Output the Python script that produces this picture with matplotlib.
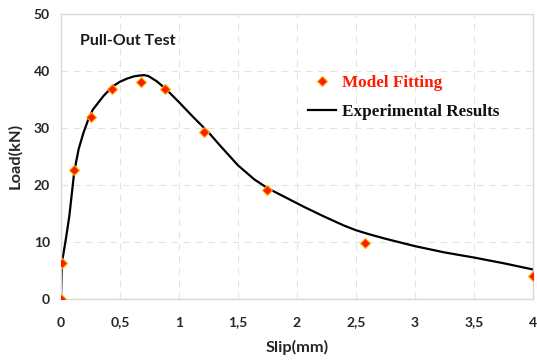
import matplotlib
matplotlib.use("Agg")
import matplotlib.pyplot as plt
from matplotlib.ticker import FuncFormatter

# Model fitting points (slip in mm, load in kN)
model_slip = [0.0, 0.005, 0.11, 0.25, 0.43, 0.68, 0.88, 1.21, 1.745, 2.58, 4.0]
model_load = [0.0, 6.3, 22.5, 31.9, 36.8, 38.1, 36.8, 29.3, 19.1, 9.7, 3.9]

# Experimental load-slip curve
exp_slip = [0.0, 0.008, 0.04, 0.07, 0.113, 0.15, 0.19, 0.23, 0.27, 0.36, 0.44,
            0.5, 0.56, 0.62, 0.67, 0.705, 0.74, 0.81, 0.89, 1.0, 1.12, 1.25,
            1.36, 1.5, 1.64, 1.75, 1.9, 2.06, 2.22, 2.4, 2.5, 2.61, 2.75, 3.0,
            3.25, 3.5, 3.75, 4.0]
exp_load = [0.0, 6.3, 10.3, 14.4, 22.4, 26.3, 29.1, 31.4, 33.2, 35.6, 37.3,
            38.1, 38.65, 39.05, 39.2, 39.25, 39.1, 38.2, 36.8, 34.5, 31.9, 29.2,
            26.6, 23.4, 20.9, 19.4, 17.8, 16.1, 14.5, 12.8, 12.0, 11.3, 10.5, 9.2,
            8.1, 7.2, 6.2, 5.1]

x_ticks = [0, 0.5, 1, 1.5, 2, 2.5, 3, 3.5, 4]
y_ticks = [0, 10, 20, 30, 40, 50]

sans = "Lato"
serif = "Liberation Serif"
dark = "#262626"

fig = plt.figure(figsize=(5.37, 3.61), dpi=100)
ax = fig.add_axes([0.1136, 0.1731, 0.8790, 0.7881])

ax.plot(exp_slip, exp_load, color="black", lw=1.6, zorder=2,
        solid_joinstyle="round", label="Experimental Results")
ax.plot(model_slip, model_load, ls="none", marker="D", ms=5.5,
        mfc="#ff1a00", mec="#ffb000", mew=0.8, zorder=3, label="Model Fitting")

ax.set_xlim(0, 4)
ax.set_ylim(0, 50)
ax.set_xticks(x_ticks)
ax.set_yticks(y_ticks)
ax.xaxis.set_major_formatter(FuncFormatter(
    lambda v, p: (f"{v:g}").replace(".", ",")))

ax.grid(True, color="#e3e3e3", lw=0.8, ls=(0, (6, 5)))
ax.set_axisbelow(True)
for s in ax.spines.values():
    s.set_color("#d9d9d9")
    s.set_linewidth(1.0)
ax.tick_params(length=0, labelsize=10, colors=dark)
ax.tick_params(axis="x", pad=13)
ax.tick_params(axis="y", pad=8)
for lbl in ax.get_xticklabels() + ax.get_yticklabels():
    lbl.set_fontfamily(sans)
    lbl.set_fontweight("bold")

ax.set_xlabel("Slip(mm)", fontfamily=sans, fontweight="bold", fontsize=11.8,
              color=dark, labelpad=8)
ax.set_ylabel("Load(kN)", fontfamily=sans, fontweight="bold", fontsize=11.8,
              color=dark, labelpad=8)

ax.text(0.04, 0.905, "Pull-Out Test", transform=ax.transAxes,
        fontfamily=sans, fontweight="bold", fontsize=11.5, color="#1a1a1a",
        va="center", ha="left")

handles, labels = ax.get_legend_handles_labels()
leg = ax.legend(handles[::-1], labels[::-1], loc="center left",
                bbox_to_anchor=(0.4915, 0.7065), frameon=False,
                prop={"family": serif, "weight": "bold", "size": 12.3},
                handlelength=1.6, handletextpad=0.35, labelspacing=0.8,
                labelcolor=["#ff1a00", "#111111"])

fig.savefig("out.png", dpi=100)
